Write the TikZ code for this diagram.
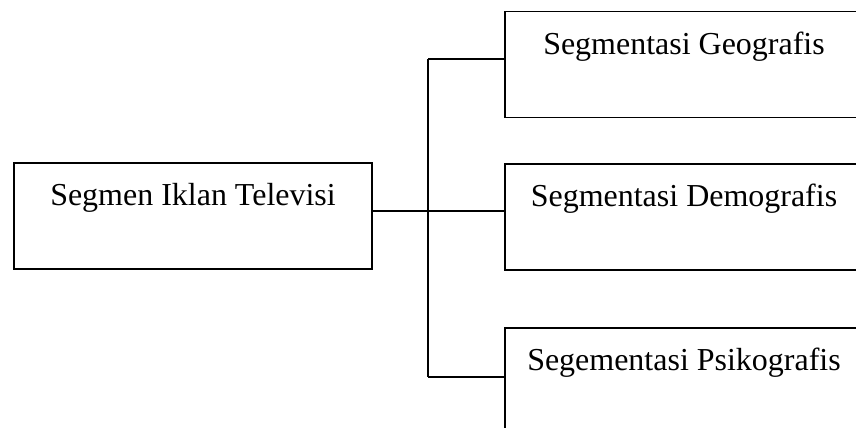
\documentclass[tikz,border=0pt]{standalone}
\usepackage{fontspec}
\setmainfont{Liberation Serif}
\usepackage{tikz}
\usetikzlibrary{positioning, calc}

\begin{document}
\begin{tikzpicture}[
    x=0.02cm, y=-0.02cm,
    segbox/.style={rectangle, draw=black, line width=0.7pt, minimum width=7.16cm, inner xsep=0pt, inner ysep=0pt,
        text height=0.86cm, text depth=1.26cm, font=\fontsize{18.2}{22}\selectfont},
    link/.style={draw=black, line width=0.6pt}
]
    \useasboundingbox (0,0) rectangle (856,428);

    % main box
    \node[segbox] (iklan) at (193,216) {Segmen Iklan Televisi};

    % segment boxes
    \node[segbox] (geo) at (684,64.5) {Segmentasi Geografis};
    \node[segbox] (demo) at (684,217) {Segmentasi Demografis};
    \node[segbox] (psiko) at (684,381) {Segementasi Psikografis};

    % connectors
    \coordinate (hub) at (428,211);
    \coordinate (trunktop) at (428,59);
    \coordinate (trunkbot) at (428,377);

    \draw[link] (iklan.east |- hub) -- (demo.west |- hub);
    \draw[link] (trunktop) -- (trunkbot);
    \draw[link] (trunktop) -- (geo.west |- trunktop);
    \draw[link] (trunkbot) -- (psiko.west |- trunkbot);
\end{tikzpicture}
\end{document}
